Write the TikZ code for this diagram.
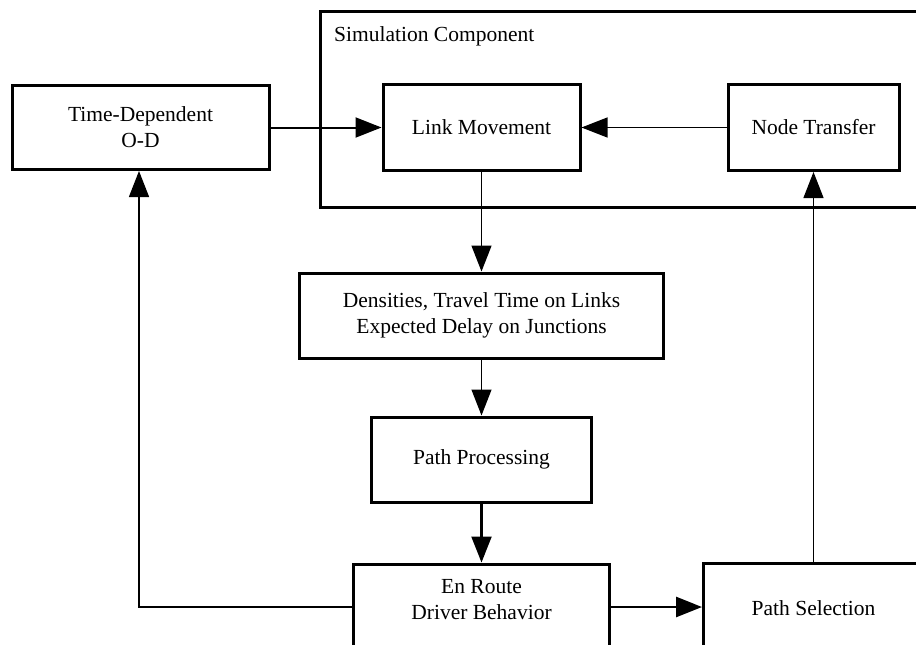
\documentclass[tikz,border=0pt]{standalone}
\usepackage{fontspec}
\setmainfont{Liberation Serif}
\usetikzlibrary{arrows.meta}
\tikzset{
  box/.style={draw, line width=3pt, align=center, inner sep=0pt, font=\fontsize{21.5}{26}\selectfont},
  lbl/.style={inner sep=0pt, align=center, font=\fontsize{21.5}{26}\selectfont},
  arr/.style={line width=1.4pt, -{Triangle[length=26pt,width=20pt]}},
  thickarr/.style={line width=2.2pt, -{Triangle[length=26pt,width=20pt]}}
}
\begin{document}
\begin{tikzpicture}[x=1pt,y=-1pt]
\path[use as bounding box] (0,0) rectangle (916,645);
\clip (0,0) rectangle (916,645);
\fill[white] (0,0) rectangle (916,645);
% outer simulation component
\node[box, minimum width=610pt, minimum height=196pt] (sim) at (625,109) {};
\node[lbl, anchor=west] (simlbl) at (334,36) {Simulation Component};
\node[box, minimum width=257pt, minimum height=84pt] (td) at (140.5,127.5) {Time-Dependent\\O-D};
\node[box, minimum width=197pt, minimum height=86pt] (lm) at (481.5,127.5) {Link Movement};
\node[box, minimum width=171pt, minimum height=86pt] (nt) at (813.5,127.5) {Node Transfer};
\node[box, minimum width=364pt, minimum height=85pt] (dens) at (481.5,315.5) {Densities, Travel Time on Links\\Expected Delay on Junctions};
\node[box, minimum width=220pt, minimum height=85pt] (pp) at (481.5,459.5) {Path Processing};
\node[box, minimum width=256pt, minimum height=110pt] (er) at (481.5,619) {};
\node[lbl] (ertext) at (481.5,600) {En Route\\Driver Behavior};
\node[box, minimum width=220pt, minimum height=110pt] (ps) at (813.5,618) {};
\node[lbl] (pstext) at (813.5,608) {Path Selection};
% connectors
\coordinate (c1) at (139,607);
\draw[thickarr, line width=2pt] (td) -- (lm);
\draw[arr, line width=1.2pt] (nt) -- (lm);
\draw[arr] (lm) -- (dens);
\draw[arr, line width=1.2pt] (dens) -- (pp);
\draw[thickarr] (pp) -- (er);
\draw[arr] (er.west |- c1) -- (c1) -- (td.south -| c1);
\draw[thickarr, line width=2.6pt] (er.east |- c1) -- (ps.west |- c1);
\draw[arr, line width=1.2pt] (ps) -- (nt);
\end{tikzpicture}
\end{document}
